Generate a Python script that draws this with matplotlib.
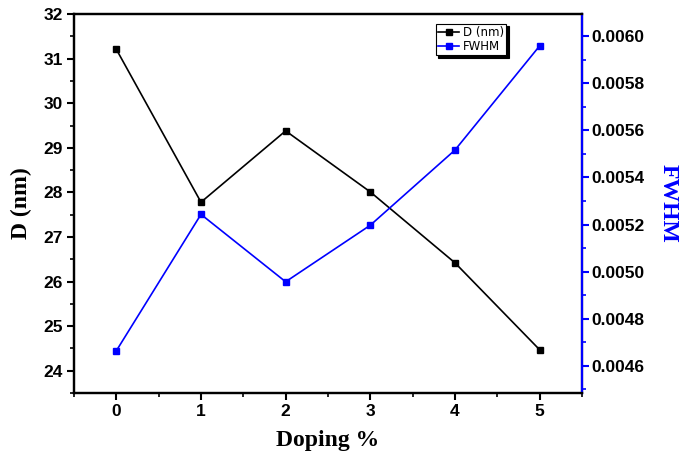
import numpy as np
import matplotlib.pyplot as plt
from matplotlib.ticker import MultipleLocator

# data
doping = [0, 1, 2, 3, 4, 5]
d_nm = [31.21, 27.78, 29.38, 28.01, 26.42, 24.47]
fwhm = [0.004664, 0.005243, 0.004957, 0.005197, 0.005516, 0.005958]

tick_font = {'family': 'Liberation Sans', 'weight': 'bold', 'size': 12.5}
label_font = {'family': 'Liberation Serif', 'weight': 'bold', 'size': 17}

fig = plt.figure(figsize=(6.85, 4.61), dpi=100)
ax = fig.add_axes([0.108, 0.1475, 0.7416, 0.822])
ax2 = ax.twinx()

l1, = ax.plot(doping, d_nm, 'ks-', lw=1.2, ms=5, label='D (nm)')
l2, = ax2.plot(doping, fwhm, 's-', color='#0000ff', lw=1.2, ms=5, label='FWHM')

ax.set_xlim(-0.5, 5.5)
ax.set_ylim(23.5, 32)
ax2.set_ylim(0.004485, 0.006093)

ax.xaxis.set_major_locator(MultipleLocator(1))
ax.xaxis.set_minor_locator(MultipleLocator(0.5))
ax.yaxis.set_major_locator(MultipleLocator(1))
ax.yaxis.set_minor_locator(MultipleLocator(0.5))
ax2.yaxis.set_major_locator(MultipleLocator(0.0002))
ax2.yaxis.set_minor_locator(MultipleLocator(0.0001))
ax2.yaxis.set_major_formatter(plt.FormatStrFormatter('%.4f'))

for a in (ax, ax2):
    for s in a.spines.values():
        s.set_linewidth(1.6)
ax.tick_params(which='major', direction='out', length=5, width=1.5, pad=3)
ax.tick_params(which='minor', direction='out', length=3, width=1.2)
ax.tick_params(top=False, which='both')
ax2.spines['right'].set_color('#0000ff')
ax2.tick_params(which='major', direction='out', length=5, width=1.5, pad=2,
                colors='#0000ff', labelcolor='black')
ax2.tick_params(which='minor', direction='out', length=3, width=1.2, colors='#0000ff')

for lab in ax.get_xticklabels() + ax.get_yticklabels() + ax2.get_yticklabels():
    lab.set_fontproperties(tick_font)

ax.set_xlabel('Doping %', fontdict=label_font, labelpad=8)
ax.set_ylabel('D (nm)', fontdict=label_font, labelpad=8)
ax2.set_ylabel('FWHM', fontdict=label_font, color='#0000ff', rotation=270, labelpad=24)

leg = ax2.legend([l1, l2], ['D (nm)', 'FWHM'], loc='upper left',
                 bbox_to_anchor=(0.712, 0.975), fontsize=8.5, fancybox=False,
                 shadow={'color': 'black', 'alpha': 1}, framealpha=1,
                 edgecolor='black', handlelength=1.8, borderpad=0.2,
                 labelspacing=0.1, handletextpad=0.3, borderaxespad=0)
leg.get_frame().set_linewidth(0.8)

fig.savefig('out.png', dpi=100)
